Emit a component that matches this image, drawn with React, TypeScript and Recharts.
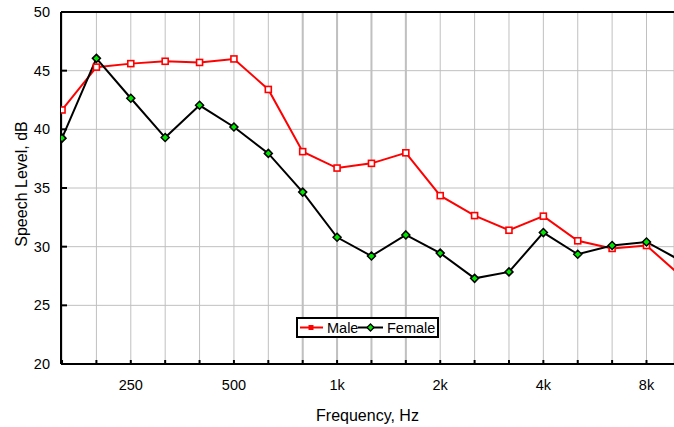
import React from 'react';
import {
  LineChart,
  Line,
  XAxis,
  YAxis,
  CartesianGrid,
  ReferenceLine,
} from 'recharts';

// third-octave band centres, Hz (plotted evenly spaced by band)
const frequencies = [
  160, 200, 250, 315, 400, 500, 630, 800, 1000, 1250, 1600, 2000, 2500, 3150, 4000, 5000,
  6300, 8000, 10000,
];
const maleLevels = [
  41.65, 45.3, 45.6, 45.8, 45.7, 46.0, 43.4, 38.1, 36.7, 37.1, 38.0, 34.35, 32.65, 31.4, 32.6,
  30.5, 29.85, 30.1, 27.5,
];
const femaleLevels = [
  39.25, 46.05, 42.65, 39.3, 42.05, 40.2, 37.95, 34.65, 30.8, 29.2, 31.0, 29.45, 27.3, 27.85,
  31.2, 29.35, 30.1, 30.4, 28.8,
];
const xTickLabels: Record<number, string> = {
  250: '250',
  500: '500',
  1000: '1k',
  2000: '2k',
  4000: '4k',
  8000: '8k',
};
const yTicks = [20, 25, 30, 35, 40, 45, 50];
const boldGrid = [800, 1000, 1250, 1600];

const data = frequencies.map((f, i) => ({
  band: i,
  freq: f,
  male: maleLevels[i],
  female: femaleLevels[i],
}));
const bandTicks = data.slice(0, 18).map((d) => d.band);

const FONT = '"Liberation Sans", Arial, sans-serif';
const GRID = '#c0c0c0';

const SquareDot = (props: any) => {
  const { cx, cy, index } = props;
  if (cx == null || cy == null) return <g key={`m-${index}`} />;
  return (
    <rect
      key={`m-${index}`}
      x={cx - 3}
      y={cy - 3}
      width={6}
      height={6}
      fill="#fff"
      stroke="#ff0000"
      strokeWidth={1.6}
    />
  );
};

const DiamondDot = (props: any) => {
  const { cx, cy, index } = props;
  if (cx == null || cy == null) return <g key={`f-${index}`} />;
  const r = 4;
  return (
    <path
      key={`f-${index}`}
      d={`M${cx},${cy - r}L${cx + r},${cy}L${cx},${cy + r}L${cx - r},${cy}Z`}
      fill="#00e600"
      stroke="#000"
      strokeWidth={1.5}
    />
  );
};

// legend drawn as an overlay so it doesn't eat chart height
const LegendBox = () => (
  <svg width={143} height={21} style={{ display: 'block' }}>
    <rect x={1} y={1} width={141} height={19} fill="#fff" stroke="#000" strokeWidth={2} />
    <line x1={4} y1={10.5} x2={27} y2={10.5} stroke="#ff0000" strokeWidth={2} />
    <rect x={12.5} y={8} width={5} height={5} fill="#ff0000" />
    <text x={31} y={15.5} fontSize={14.5} fontFamily={FONT} fill="#000">
      Male
    </text>
    <line x1={62} y1={10.5} x2={87} y2={10.5} stroke="#000" strokeWidth={2} />
    <path d="M74.5,7L78,10.5L74.5,14L71,10.5Z" fill="#00e600" stroke="#000" strokeWidth={1.3} />
    <text x={91} y={15.5} fontSize={14.5} fontFamily={FONT} fill="#000">
      Female
    </text>
  </svg>
);

export default function App() {
  return (
    <div style={{ position: 'absolute', left: 0, top: 0, width: 674, height: 427, background: '#fff' }}>
      <LineChart
        width={674}
        height={427}
        data={data}
        margin={{ top: 12, right: 0, bottom: 0, left: 0 }}
      >
        <CartesianGrid stroke={GRID} strokeWidth={1} />
        {boldGrid.map((f) => (
          <ReferenceLine key={f} x={frequencies.indexOf(f)} stroke={GRID} strokeWidth={2} />
        ))}
        <ReferenceLine y={50} stroke="#000" strokeWidth={2} />
        <XAxis
          dataKey="band"
          type="number"
          domain={[-0.03, 17.8]}
          allowDataOverflow
          ticks={bandTicks}
          interval={0}
          tickFormatter={(v: number) => xTickLabels[frequencies[v]] ?? ''}
          height={63}
          tickSize={-4}
          tickMargin={20}
          axisLine={{ stroke: '#000', strokeWidth: 2 }}
          tickLine={{ stroke: '#000', strokeWidth: 2 }}
          tick={{ fontSize: 14.5, fontFamily: FONT, fill: '#000' }}
          label={{
            value: 'Frequency, Hz',
            position: 'insideBottom',
            offset: 6,
            fontSize: 16,
            fontFamily: FONT,
            fill: '#000',
          }}
        />
        <YAxis
          type="number"
          domain={[20, 50]}
          ticks={yTicks}
          interval={0}
          width={61}
          tickSize={-6}
          tickMargin={17}
          axisLine={{ stroke: '#000', strokeWidth: 2 }}
          tickLine={{ stroke: '#000', strokeWidth: 2 }}
          tick={{ fontSize: 14.5, fontFamily: FONT, fill: '#000' }}
          label={() => (
            <text
              x={21}
              y={184}
              transform="rotate(-90 21 184)"
              textAnchor="middle"
              dominantBaseline="central"
              fontSize={16}
              fontFamily={FONT}
              fill="#000"
            >
              Speech Level, dB
            </text>
          )}
        />
        <Line
          type="linear"
          dataKey="male"
          name="Male"
          stroke="#ff0000"
          strokeWidth={2}
          dot={SquareDot}
          activeDot={false}
          isAnimationActive={false}
        />
        <Line
          type="linear"
          dataKey="female"
          name="Female"
          stroke="#000"
          strokeWidth={2}
          dot={DiamondDot}
          activeDot={false}
          isAnimationActive={false}
        />
      </LineChart>
      <div style={{ position: 'absolute', left: 296, top: 317 }}>
        <LegendBox />
      </div>
    </div>
  );
}
